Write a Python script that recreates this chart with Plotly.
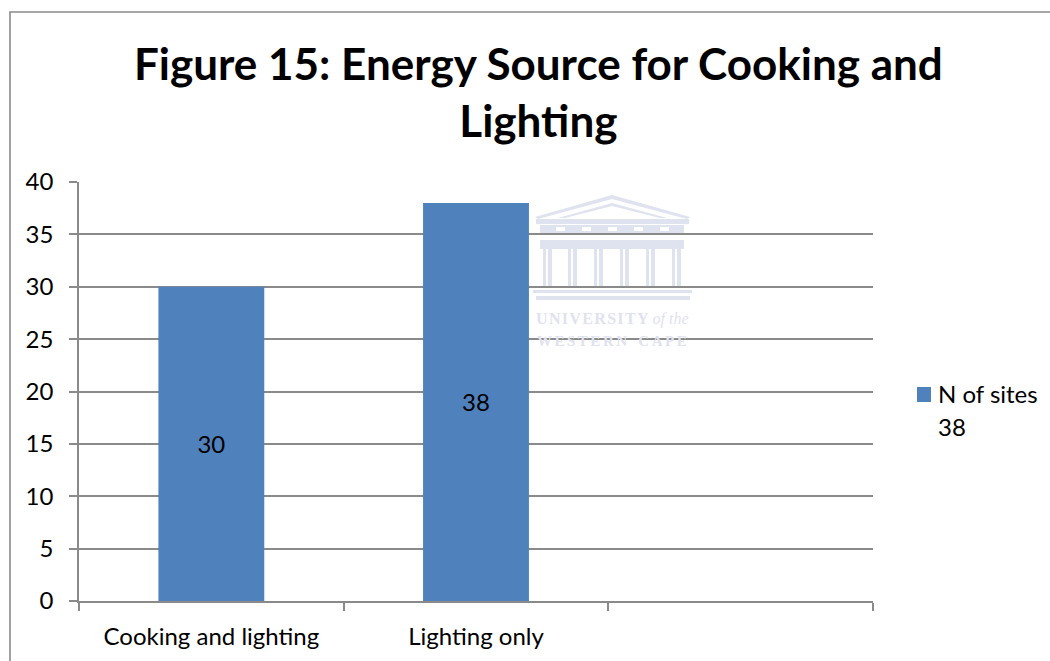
import plotly.graph_objects as go

W, H = 1050, 661
LEFT, RIGHT, TOP, BOTTOM = 79, 873, 182, 601

categories = ["Cooking and lighting", "Lighting only", " "]
sites = [30, 38, None]
series_name = "N of sites"
series_total = "38"
y_ticks = [0, 5, 10, 15, 20, 25, 30, 35, 40]
title_text = "<b>Figure 15: Energy Source for Cooking and<br>Lighting</b>"

FONT = "Lato, Carlito, Calibri, sans-serif"
BAR = "#4f81bd"
GRID = "#8a8a8a"
CREST = "#dfe2ef"
HAIR = "\u200a"


def px(x):
    return (x - LEFT) / (RIGHT - LEFT)


def py(y):
    return (BOTTOM - y) / (BOTTOM - TOP)


def path(points):
    return "M" + " L".join(f"{px(x):.5f},{py(y):.5f}" for x, y in points) + " Z"


def block(x0, y0, x1, y1, color=CREST, layer="below"):
    return dict(type="rect", xref="paper", yref="paper", layer=layer,
                x0=px(x0), x1=px(x1), y0=py(y1), y1=py(y0),
                fillcolor=color, line=dict(width=0))


def spaced(word, gap=HAIR):
    return gap.join(word)


# Faint university crest behind the grid
crest = [
    dict(type="path", xref="paper", yref="paper", layer="below",
         path=path([(535, 217), (612, 195), (690, 217), (687, 219), (612, 199), (538, 219)]),
         fillcolor=CREST, line=dict(width=0)),
    dict(type="path", xref="paper", yref="paper", layer="below",
         path=path([(558, 218), (612, 203), (667, 218), (660, 218), (612, 206), (565, 218)]),
         fillcolor=CREST, line=dict(width=0)),
    block(536, 219, 689, 224),
    block(540, 225, 684, 233),
    block(540, 240, 684, 249),
    block(533, 290, 692, 293),
    block(536, 296, 690, 300),
]
# White metopes along the frieze
for x in (556, 582, 608, 634, 660):
    crest.append(block(x, 227, x + 9, 231, "#ffffff"))
# Columns
for x in (543, 568, 594, 620, 646, 672):
    crest.append(block(x, 243, x + 9, 288))
    crest.append(block(x + 3, 249, x + 5, 288, "#ffffff"))

frame = dict(type="path", xref="paper", yref="paper", layer="above",
             path="M" + " L".join(f"{px(x):.5f},{py(y):.5f}"
                                  for x, y in [(10, 661), (10, 12), (1050, 12)]),
             line=dict(color=GRID, width=1.6))

# Legend key, placed tight against its label
legend_key = block(917, 387, 931, 402, BAR, "above")

fig = go.Figure(go.Bar(
    x=categories, y=sites, name=series_name,
    marker=dict(color=BAR, line=dict(width=0)),
    text=[str(v) if v is not None else "" for v in sites],
    textposition="inside", insidetextanchor="middle", textangle=0,
    textfont=dict(color="#000000", size=24, family=FONT),
    showlegend=False,
))


def note(text, x, y, size, family=FONT, color="#000000", xanchor="left", yanchor="middle"):
    return dict(text=text, xref="paper", yref="paper", x=px(x), y=py(y),
                xanchor=xanchor, yanchor=yanchor, showarrow=False,
                font=dict(size=size, family=family, color=color))


fig.update_layout(
    width=W, height=H,
    margin=dict(l=LEFT, r=W - RIGHT, t=TOP, b=H - BOTTOM, autoexpand=False),
    paper_bgcolor="#ffffff", plot_bgcolor="rgba(0,0,0,0)",
    bargap=0.6,
    font=dict(family=FONT, size=24, color="#000000"),
    shapes=crest + [frame, legend_key],
    annotations=[
        note(title_text, 538, 35, 44, xanchor="center", yanchor="top"),
        note(f"<b>{spaced('UNIVERSITY')}</b> <i>of the</i>", 612, 319, 16,
             "Liberation Serif", CREST, "center"),
        note(f"<b>{spaced('WESTERN', HAIR * 2)}   {spaced('CAPE', HAIR * 2)}</b>", 612, 341, 15,
             "Liberation Serif", CREST, "center"),
        note(series_name, 936, 393, 24),
        note(series_total, 936, 426, 24),
    ],
)
fig.update_xaxes(
    type="category", categoryorder="array", categoryarray=categories,
    range=[-0.5, 2.5], tickson="boundaries",
    ticks="outside", ticklen=8, tickcolor=GRID, tickwidth=1.5,
    ticklabelstandoff=13,
    showline=True, linecolor=GRID, linewidth=1.5, showgrid=False,
    tickfont=dict(size=24, family=FONT, color="#000000"),
)
fig.update_yaxes(
    range=[0, 40], tickvals=y_ticks,
    ticks="outside", ticklen=8, tickcolor=GRID, tickwidth=1.5,
    ticklabelstandoff=11,
    showline=True, linecolor=GRID, linewidth=1.5,
    showgrid=True, gridcolor=GRID, gridwidth=1.5, zeroline=False,
    tickfont=dict(size=24, family=FONT, color="#000000"),
)

fig.write_html("out.html")
